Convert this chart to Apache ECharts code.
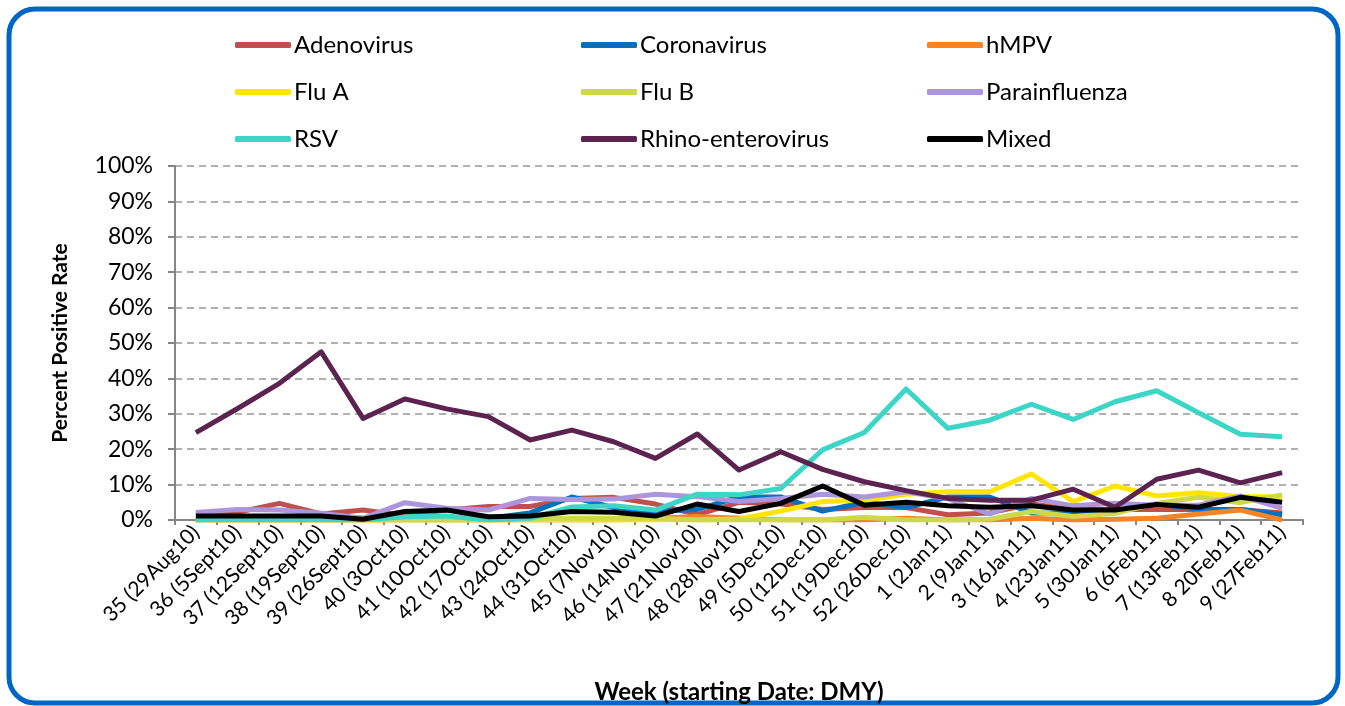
<!DOCTYPE html>
<html>
<head>
<meta charset="utf-8">
<title>Percent Positive Rate by Week</title>
<script src="https://cdn.jsdelivr.net/npm/echarts@6/dist/echarts.min.js"></script>
<style>
  html, body { margin: 0; padding: 0; background: #fff; }
  #chart { width: 1345px; height: 706px; }
</style>
</head>
<body>
<div id="chart"></div>
<script>
const weeks = [
  "35 (29Aug10)", "36 (5Sept10)", "37 (12Sept10)", "38 (19Sept10)", "39 (26Sept10)",
  "40 (3Oct10)", "41 (10Oct10)", "42 (17Oct10)", "43 (24Oct10)", "44 (31Oct10)",
  "45 (7Nov10)", "46 (14Nov10)", "47 (21Nov10)", "48 (28Nov10)", "49 (5Dec10)",
  "50 (12Dec10)", "51 (19Dec10)", "52 (26Dec10)", "1 (2Jan11)", "2 (9Jan11)",
  "3 (16Jan11)", "4 (23Jan11)", "5 (30Jan11)", "6 (6Feb11)", "7 (13Feb11)",
  "8 20Feb11)", "9 (27Feb11)"
]

const adenovirus = [1.5, 2.2, 4.7, 1.7, 2.8, 1.2, 2.8, 3.8, 3.8, 6.1, 6.4, 4.5, 1.5, 5.0, 4.5, 3.0, 3.5, 3.5, 1.5, 2.0, 4.5, 3.0, 3.0, 3.0, 3.0, 3.0, 2.0]
const coronavirus = [0.5, 0.5, 0.5, 0.5, 0.5, 0.5, 0.5, 0.5, 2.0, 6.5, 3.5, 2.5, 3.0, 6.5, 6.5, 2.5, 5.0, 3.5, 6.5, 6.5, 2.0, 2.0, 2.5, 4.5, 3.0, 3.0, 1.5]
const hmpv = [0, 0, 0, 0, 0, 0, 0, 0, 0, 0, 0, 0.5, 1.0, 0.5, 0, 0, 0, 0.5, 0, 0, 0.5, 0, 0.2, 0.5, 1.7, 2.8, 0]
const fluA = [0, 0, 0, 0, 0, 0, 0, 0, 0, 0, 0, 0, 0, 0.3, 2.5, 5.2, 5.6, 7.3, 8.0, 8.0, 13.0, 5.2, 9.6, 6.8, 7.7, 6.6, 6.6]
const fluB = [0, 0, 0, 0, 0, 0, 0, 0, 0.3, 0.5, 0.5, 0.5, 0, 0, 0, 0, 0.8, 0, 0, 0.2, 2.4, 1.0, 1.9, 4.7, 6.4, 4.9, 7.1]
const parainfluenza = [2.1, 3.0, 2.8, 1.9, 0.5, 4.9, 3.3, 2.8, 6.1, 5.8, 5.9, 7.3, 6.6, 5.2, 6.1, 7.3, 6.5, 8.0, 6.0, 1.7, 6.1, 4.0, 4.7, 4.2, 4.2, 6.8, 3.3]
const rsv = [0, 0, 0, 0, 0, 0.9, 1.1, 0, 0.5, 3.7, 4.0, 2.8, 7.3, 7.1, 8.9, 19.8, 24.7, 37.0, 25.9, 28.2, 32.7, 28.4, 33.4, 36.5, 30.3, 24.2, 23.5]
const rhino = [24.7, 31.5, 38.6, 47.5, 28.7, 34.2, 31.4, 29.2, 22.6, 25.4, 22.1, 17.4, 24.3, 14.1, 19.3, 14.3, 10.8, 8.3, 6.1, 5.6, 5.6, 8.7, 3.6, 11.5, 14.1, 10.5, 13.4]
const mixed = [1.1, 1.1, 1.1, 1.1, 0.2, 2.4, 2.8, 0.9, 1.1, 2.4, 2.2, 1.1, 4.5, 2.4, 4.7, 9.6, 4.2, 5.0, 4.0, 3.6, 4.0, 2.8, 2.8, 4.4, 3.6, 6.4, 5.0]

const yTicks = [0, 10, 20, 30, 40, 50, 60, 70, 80, 90, 100]

const seriesDefs = [
  { name: "Adenovirus", data: adenovirus, color: "#c0504d" },
  { name: "Coronavirus", data: coronavirus, color: "#0070c0" },
  { name: "hMPV", data: hmpv, color: "#f58426" },
  { name: "Flu A", data: fluA, color: "#ffe500" },
  { name: "Flu B", data: fluB, color: "#cdd84a" },
  { name: "Parainfluenza", data: parainfluenza, color: "#ab95dc" },
  { name: "RSV", data: rsv, color: "#3bd6c6" },
  { name: "Rhino-enterovirus", data: rhino, color: "#5c2350" },
  { name: "Mixed", data: mixed, color: "#000000" },
]

const font = "Lato, 'Open Sans', sans-serif"

function legendColumn(left, names) {
  return {
    orient: "vertical",
    left: left,
    top: 32,
    padding: 0,
    itemWidth: 56,
    itemHeight: 6,
    itemGap: 21,
    icon: "roundRect",
    data: names,
    textStyle: { fontFamily: font, fontSize: 24, lineHeight: 26, color: "#000", padding: [0, 0, 0, -2] },
  }
}

const chart = echarts.init(document.getElementById("chart"))

chart.setOption({
  animation: false,
  graphic: [
    {
      type: "rect",
      shape: { x: 9, y: 9, width: 1329, height: 694, r: 26 },
      style: { fill: "none", stroke: "#0066c6", lineWidth: 5 },
      z: -1,
    },
  ],
  legend: [
    legendColumn(235, ["Adenovirus", "Flu A", "RSV"]),
    legendColumn(581, ["Coronavirus", "Flu B", "Rhino-enterovirus"]),
    legendColumn(927, ["hMPV", "Parainfluenza", "Mixed"]),
  ],
  grid: { left: 175, right: 42, top: 166, bottom: 186, outerBoundsMode: "none" },
  xAxis: {
    type: "category",
    data: weeks,
    boundaryGap: true,
    name: "Week (starting Date: DMY)",
    nameLocation: "middle",
    nameGap: 160,
    nameTextStyle: { fontFamily: font, fontSize: 24, fontWeight: "bold", color: "#000" },
    axisLine: { lineStyle: { color: "#868686", width: 2 } },
    axisTick: { show: true, length: 5, lineStyle: { color: "#868686", width: 2 } },
    axisLabel: {
      interval: 0,
      rotate: 45,
      margin: 9,
      fontFamily: font,
      fontSize: 21,
      color: "#000",
    },
  },
  yAxis: {
    type: "value",
    min: yTicks[0],
    max: yTicks[yTicks.length - 1],
    interval: 10,
    name: "Percent Positive Rate",
    nameLocation: "middle",
    nameRotate: 90,
    nameGap: 104,
    nameTextStyle: { fontFamily: font, fontSize: 21, fontWeight: "bold", color: "#000" },
    axisLine: { show: true, lineStyle: { color: "#868686", width: 2 } },
    axisTick: { show: true, inside: false, length: 7, lineStyle: { color: "#868686", width: 2 } },
    axisLabel: {
      margin: 22,
      fontFamily: font,
      fontSize: 23,
      color: "#000",
      formatter: v => v + "%",
    },
    splitLine: { lineStyle: { type: [7, 5], color: "#b0b0b0", width: 2 } },
  },
  series: seriesDefs.map(s => ({
    name: s.name,
    type: "line",
    data: s.data,
    symbol: "none",
    color: s.color,
    lineStyle: { width: 5, color: s.color, join: "round" },
    itemStyle: { color: s.color },
  })),
})
</script>
</body>
</html>
